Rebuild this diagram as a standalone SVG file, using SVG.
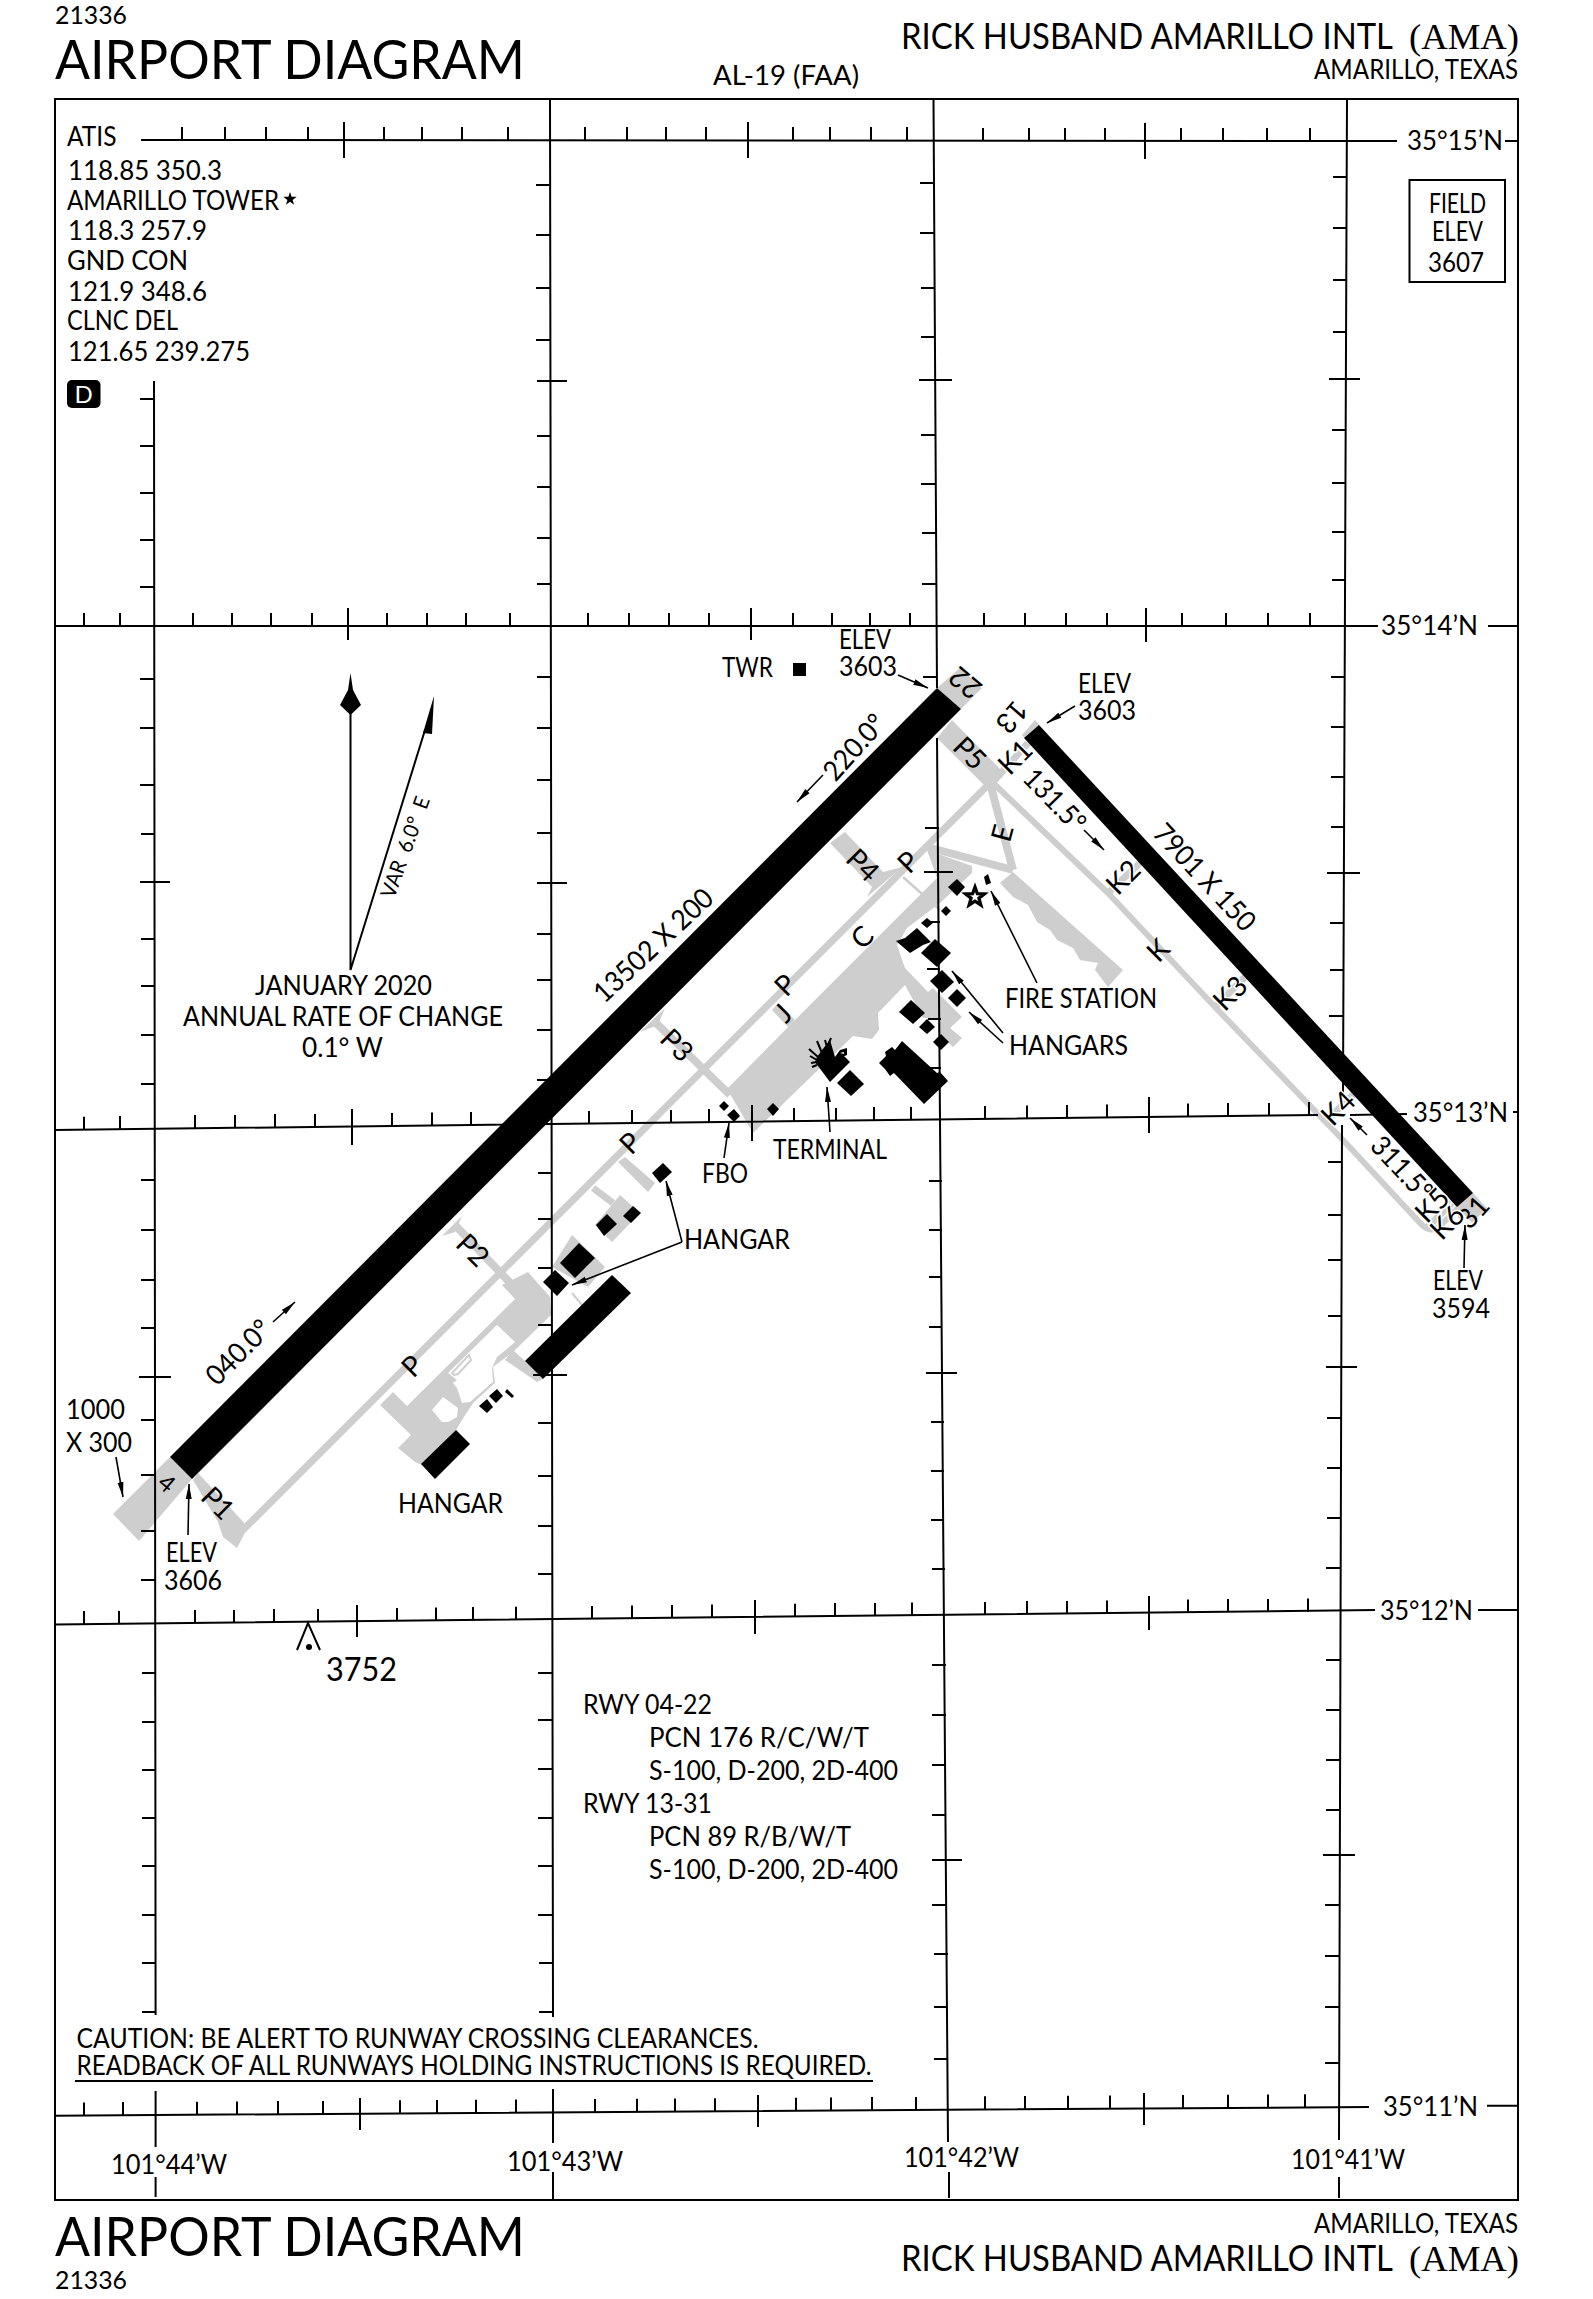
<svg xmlns="http://www.w3.org/2000/svg" width="1593" height="2299" viewBox="0 0 1593 2299">
<defs>
<marker id="a" markerUnits="userSpaceOnUse" markerWidth="16" markerHeight="8" refX="15" refY="4" orient="auto"><path d="M0 1L15 4L0 7z" fill="#000"/></marker>
</defs>
<style>
text{font-family:"Lato","Liberation Sans",sans-serif;fill:#000;font-size:26px}
.r{text-anchor:middle}
.t{font-size:28px}
.h{paint-order:stroke;stroke:#fff;stroke-width:3px}
.g{fill:#cecece;stroke:none}
.gl{fill:none;stroke:#cecece;stroke-linecap:butt;stroke-linejoin:round}
.b{fill:#000;stroke:none}
.ln{fill:none;stroke:#000;stroke-width:2}
.ar{fill:none;stroke:#000;stroke-width:1.6;marker-end:url(#a)}
</style>
<rect width="1593" height="2299" fill="#fff"/>

<g id="pavement">
<polygon class="g" points="937,688 960,668 982,688 961,709"/>
<polygon class="g" points="170,1457 113,1514 139,1541 192,1479"/>
<polygon class="g" points="1022,735 1035,720 1039,725 1024,738"/>
<polygon class="g" points="1473,1193 1457,1207 1472,1223 1487,1208"/>
<path class="gl" stroke-width="6" d="M993,783L1108,893L1215,1007L1343,1140L1420,1223Q1431,1235 1441,1225L1458,1208"/>
<path class="gl" stroke-width="7" d="M993,782L1028,743M1108,893L1141,862M1216,1006L1247,975M1325,1122L1358,1090M1427,1228L1452,1203"/>
<polygon class="g" points="937,738 985,786 1001,770 952,720"/>
<path class="gl" stroke-width="7" d="M992,781L243,1530"/>
<polygon class="g" points="198,1473 248,1527 237,1548 223,1537 218,1522 193,1480"/>
<polygon class="g" points="830,843 845,832 883,872 902,867 867,897 872,887"/>
<path class="gl" stroke-width="8" d="M653,1020L730,1095M455,1225L515,1288M927,847L1013,870M990,783L1013,870"/>
<path class="gl" stroke-width="2.5" d="M903,877L940,910"/>
<polygon class="g" points="640,1032 665,1008 658,1025"/>
<polygon class="g" points="442,1236 462,1216 455,1232"/>
<polygon class="g" points="1013,872 1123,970 1108,987 1095,970 1098,963 1080,960 1073,948 1057,940 1050,930 1037,922 1028,905 1013,897 1000,883"/>
<polygon class="g" points="753,1133 727,1089 795,1020 873,942 937,878 927,850 972,866 972,873 940,903 907,928 897,945 905,968 928,992 933,988 962,1017 950,1028 962,1038 953,1047 938,1033 938,1018 923,1018 905,985 878,1013 879,1030 872,1039 853,1036"/>
<polygon class="g" points="772,1010 778,1003 795,1020 788,1027"/>
<polygon class="g" points="618,1162 625,1157 655,1183 648,1192"/>
<path class="gl" stroke-width="7" d="M593,1188L613,1203"/>
<polygon class="g" points="595,1225 620,1195 640,1213 612,1242"/>
<polygon class="g" points="552,1267 572,1235 605,1267 588,1287"/>
<polygon class="g" points="393,1392 407,1406 515,1299 502,1285 528,1272 550,1297 551,1315 513,1352 493,1367 495,1383 473,1403 462,1420 456,1430 422,1465 415,1462 398,1448 411,1435 380,1405"/>
<polygon points="448,1373 497,1325 515,1342 508,1348 497,1357 492,1368 493,1382 470,1402 462,1403 457,1388 453,1383 457,1380" fill="#fff"/>
<path d="M452,1373L469,1355L471,1360L458,1374L454,1375z" fill="#fff" stroke="#cecece" stroke-width="2"/>
<path d="M432,1410L443,1397L458,1408L457,1417L448,1422L442,1422z" fill="#fff"/>
<polygon class="g" points="513,1350 525,1361 543,1379 537,1382 505,1360"/>
<path class="gl" stroke-width="2" d="M572,1293L582,1305"/>
</g>

<g id="graticule">
<rect class="ln" x="55" y="99" width="1463" height="2101"/>
<path class="ln" d="M141,140L1397,141M1505,141H1518M55,626H1378M1488,626H1518M55,1130L1318,1115M1350,1115L1407,1114M1513,1112H1518M55,1624.5L1375,1610M1478,1610H1518M55,2115.7L1369,2107M1487,2105.7H1518"/>
<path class="ln" d="M154,381L155.6,2015M155.6,2091V2147M155.6,2177V2197M550,99L553,2017M553,2089V2143M553,2172V2199M933.5,99L937,688M937,738L948,2142M949,2172V2198M1347,99L1343,1093M1342,1125L1339,2140M1339,2177V2198"/>
<path class="ln" stroke-width="1.6" d="M182,140v-13M225,140v-13M266,140v-13M308,140v-13M344,122v36M384,140v-13M422,140v-13M462,140v-13M508,140v-13M585,140v-13M627,140v-13M666,140v-13M706,140v-13M748,122v36M793,140v-13M830,140v-13M871,140v-13M907,140v-13M983,141v-13M1029,141v-13M1065,141v-13M1105,141v-13M1145,123v36M1181,141v-13M1223,141v-13M1267,141v-13M1310,141v-13"/>
<path class="ln" stroke-width="1.6" d="M84,626v-13M120,626v-13M193,626v-13M232,626v-13M271,626v-13M312,626v-13M348,608v32M387,626v-13M427,626v-13M466,626v-13M510,626v-13M588,626v-13M629,626v-13M669,626v-13M709,626v-13M751,608v32M793,626v-13M832,626v-13M870,626v-13M910,626v-13M984,626v-13M1025,626v-13M1066,626v-13M1107,626v-13M1146,608v34M1182,626v-13M1226,626v-13M1268,626v-13M1310,626v-13"/>
<path class="ln" stroke-width="1.6" d="M84,1129.7v-13M120,1129v-13M195,1128v-13M235,1128v-13M275,1127v-13M315,1127v-13M352,1109v36M392,1126v-13M432,1125.5v-13M471,1125v-13M589,1124v-13M632,1123v-13M671,1123v-13M709,1122v-13M752,1105v36M794,1121v-13M836,1121v-13M874,1120v-13M911,1120v-13M985,1119v-13M1027,1118.5v-13M1067,1118v-13M1107,1117.5v-13M1149,1097v36M1188,1116.6v-13M1228,1116v-13M1269,1116v-13M1309,1115v-13"/>
<path class="ln" stroke-width="1.6" d="M84,1624v-13M119,1624v-13M195,1623v-13M234,1623v-13M274,1622v-13M318,1622v-13M357,1605v32M397,1621v-13M436,1620.5v-13M473,1620v-13M516,1619.7v-13M592,1619v-13M632,1618.5v-13M672,1618v-13M712,1617.6v-13M755,1600v34M795,1616.7v-13M835,1616v-13M875,1616v-13M912,1615.5v-13M985,1615v-13M1027,1614v-13M1067,1614v-13M1107,1613.5v-13M1149,1596v34M1188,1612.6v-13M1228,1612v-13M1268,1612v-13M1308,1611.4v-13"/>
<path class="ln" stroke-width="1.6" d="M84,2115.5v-13M123,2115v-13M197,2114.7v-13M237,2114.5v-13M278,2114v-13M323,2114v-13M360,2098v32M400,2113.3v-13M437,2113v-13M476,2112.8v-13M516,2112.5v-13M595,2112v-13M637,2111.7v-13M675,2111.5v-13M715,2111.2v-13M758,2095v32M796,2110.7v-13M831,2110.4v-13M872,2110v-13M916,2110v-13M985,2109.2v-13M1025,2109v-13M1068,2108.7v-13M1110,2108.5v-13M1144,2093v32M1183,2108v-13M1228,2107.7v-13M1268,2107.4v-13M1305,2107.2v-13"/>
<path class="ln" stroke-width="1.8" d="M140,399h14M140,446h14M140,493h14M140,540h14M140,587h14M140,679h14M140,728h14M140,785h14M141,834h14M140,882h30M141,939h14M141,986h14M141,1035h14M141,1084h14M141,1180h14M141,1230h14M141,1280h14M141,1328h14M139,1377h32M141,1420h14M141,1475h14M141,1531h14M141,1580h14M142,1673h13M142,1722h13M142,1770h13M142,1818h13M142,1866h13M142,1915h13M142,1963h13M142,2012h13"/>
<path class="ln" stroke-width="1.8" d="M536,185h14M536,235h14M536,288h14M536,340h14M537,381h30M537,436h14M537,487h14M537,538h14M537,584h14M537,677h14M537,728h14M537,780h14M537,833h14M537,883h30M537,934h14M537,980h14M537,1030h14M537,1080h14M538,1173h14M538,1219h14M538,1268h14M538,1325h14M533,1375h34M538,1423h14M538,1476h14M538,1526h14M538,1574h14M538,1673h14M538,1720h14M538,1769h14M538,1818h14M538,1866h14M538,1915h14M539,1963h14M539,2012h14"/>
<path class="ln" stroke-width="1.8" d="M920,183h14M920,233h14M921,288h14M921,337h14M919,380h33M921,435h14M921,484h14M922,533h14M922,584h14M923,677h14M925,828h14M924,872h29M927,922h13M927,969h13M928,1019h13M928,1068h13M929,1181h13M929,1230h13M929,1277h13M929,1327h13M926,1373h31M931,1422h13M931,1471h13M931,1520h13M932,1569h13M932,1665h14M932,1715h14M932,1765h14M932,1815h14M932,1860h30M932,1905h15M934,1954h14M934,2007h14M934,2059h14"/>
<path class="ln" stroke-width="1.8" d="M1333,177h14M1333,228h14M1333,280h14M1333,332h14M1329,379h31M1332,430h14M1332,483h14M1332,532h14M1332,580h14M1331,677h14M1331,727h14M1331,777h14M1331,827h14M1327,873h33M1330,923h14M1330,970h14M1329,1016h14M1328,1162h14M1328,1215h14M1328,1260h14M1328,1316h14M1326,1367h31M1327,1418h14M1327,1468h14M1327,1518h14M1326,1568h14M1326,1660h14M1326,1710h14M1326,1760h14M1326,1810h14M1323,1855h32M1325,1905h14M1325,1956h14M1325,2007h14M1325,2063h14"/>
</g>

<g id="runways">
<polygon class="b" points="937,688 961,709 192,1479 170,1457"/>
<polygon class="b" points="1039,725 1473,1193 1457,1207 1024,738"/>
</g>

<g id="buildings">
<rect class="b" x="793" y="663" width="13" height="13"/>
<polygon class="b" points="948,887 957,879 965,887 957,896"/>
<polygon class="b" points="984,877 988,874 991,883 986,885"/>
<polygon class="b" points="941,911 946,906 951,911 946,916"/>
<polygon class="b" points="921,923 927,918 933,923 927,928"/>
<polygon class="b" points="896,941 905,938 917,928 931,942 923,945 910,953"/>
<polygon class="b" points="921,953 935,939 951,953 937,967"/>
<polygon class="b" points="930,981 942,970 954,982 942,993"/>
<polygon class="b" points="948,998 957,989 966,998 957,1007"/>
<polygon class="b" points="899,1012 911,1000 925,1013 913,1024"/>
<polygon class="b" points="919,1027 927,1019 935,1027 927,1034"/>
<polygon class="b" points="933,1042 941,1034 949,1042 941,1050"/>
<polygon class="b" points="879,1063 886,1056 885,1052 892,1047 895,1050 902,1041 937,1073 940,1072 948,1081 924,1104 894,1073 890,1076 885,1069"/>
<polygon class="b" points="815,1062 830,1082 850,1062 843,1055 835,1057 830,1040 822,1050 817,1057"/>
<path class="b" fill-rule="evenodd" d="M835,1057L840,1050L847,1048L847,1055L842,1057zM840,1053L844,1052L844,1054z"/>
<path class="ln" d="M822,1053L817,1041M818,1057L809,1049M817,1060L810,1056M817,1062L811,1063M817,1065L812,1067M827,1047L825,1040M828,1045L831,1038"/>
<polygon class="b" points="837,1083 850,1070 864,1084 851,1096"/>
<polygon class="b" points="719,1106 724,1101 729,1106 724,1111"/>
<polygon class="b" points="727,1115 734,1109 740,1116 734,1122"/>
<polygon class="b" points="767,1109 773,1103 779,1109 773,1116"/>
<polygon class="b" points="652,1173 663,1163 672,1172 660,1183"/>
<polygon class="b" points="596,1225 607,1214 617,1224 604,1236"/>
<polygon class="b" points="623,1216 633,1206 641,1213 631,1223"/>
<polygon class="b" points="560,1263 579,1243 595,1258 575,1278"/>
<polygon class="b" points="543,1282 555,1270 569,1283 557,1296"/>
<polygon class="b" points="525,1361 612,1275 631,1293 543,1379"/>
<polygon class="b" points="421,1464 456,1430 470,1444 435,1479"/>
<polygon class="b" points="479,1406 487,1399 493,1407 487,1413"/>
<polygon class="b" points="489,1396 497,1389 503,1396 496,1403"/>
<polygon class="b" points="505,1392 507,1389 514,1396 512,1398"/>
<polygon transform="translate(975 897) scale(.82) translate(-976 -897)" points="976,885 978.9,893 987.4,893.3 980.8,898.5 983.1,906.7 976,902 968.9,906.7 971.2,898.5 964.6,893.3 973.1,893" fill="#fff" stroke="#000" stroke-width="4"/>
</g>

<g id="connectors">
<path class="ar" d="M898,675L928,688"/>
<path class="ar" d="M1075,706L1047,723"/>
<path class="ar" d="M823,775L797,802"/>
<path class="ar" d="M1084,830L1104,850"/>
<path class="ar" d="M273,1322L295,1302"/>
<path class="ar" d="M116,1457L123,1497"/>
<path class="ar" d="M188,1535L189,1484"/>
<path class="ar" d="M1367,1135L1350,1118"/>
<path class="ar" d="M1464,1268L1465,1225"/>
<path class="ar" d="M724,1158L729,1123"/>
<path class="ar" d="M830,1132L827,1087"/>
<path class="ar" d="M1037,983L991,891"/>
<path class="ar" d="M1003,1033L952,971"/>
<path class="ar" d="M1003,1043L969,1012"/>
<path class="ar" d="M682,1242L666,1181"/>
<path class="ar" d="M682,1242L572,1285"/>
</g>

<g id="north-arrows">
<path class="ln" d="M350.5,712V970L425,730"/>
<polygon class="b" points="350.5,673 353,690 361,705 350.5,715 340,705 348,690"/>
<polygon class="b" points="434,696 432,734 423,733"/>
</g>

<g id="obstacle">
<path class="ln" d="M297,1650L308,1623L320,1650"/>
<circle class="b" cx="309" cy="1647" r="3"/>
</g>

<g id="star"><polygon class="b" points="290,192 291.6,196.8 296.7,196.8 292.6,199.9 294.1,204.7 290,201.8 285.9,204.7 287.4,199.9 283.3,196.8 288.4,196.8"/></g>
<g id="class-d"><rect class="b" x="67" y="380" width="33.5" height="28" rx="5"/><text x="83.7" y="403" class="r" style="fill:#fff;font-size:24px">D</text></g>
<g id="field-elev"><rect class="ln" x="1409.5" y="180" width="95.5" height="102"/>
<text x="1429" y="213" textLength="57" lengthAdjust="spacingAndGlyphs">FIELD</text>
<text x="1432" y="241" textLength="51" lengthAdjust="spacingAndGlyphs">ELEV</text>
<text x="1428" y="272" textLength="56" lengthAdjust="spacingAndGlyphs">3607</text></g>

<g id="titles">
<text x="55" y="24" textLength="72" lengthAdjust="spacingAndGlyphs" style="font-size:25px">21336</text>
<text x="55" y="78.5" textLength="470" lengthAdjust="spacingAndGlyphs" style="font-size:55px">AIRPORT DIAGRAM</text>
<text x="713" y="85" textLength="146" lengthAdjust="spacingAndGlyphs" style="font-size:27px">AL-19 (FAA)</text>
<text x="901" y="49" textLength="492" lengthAdjust="spacingAndGlyphs" style="font-size:36px">RICK HUSBAND AMARILLO INTL</text>
<text x="1409" y="49" textLength="110" lengthAdjust="spacingAndGlyphs" style="font-size:36px;font-family:'Liberation Serif',serif">(AMA)</text>
<text x="1314" y="78.5" textLength="204" lengthAdjust="spacingAndGlyphs" style="font-size:26px">AMARILLO, TEXAS</text>
<text x="55" y="2256" textLength="470" lengthAdjust="spacingAndGlyphs" style="font-size:55px">AIRPORT DIAGRAM</text>
<text x="55" y="2289" textLength="72" lengthAdjust="spacingAndGlyphs" style="font-size:25px">21336</text>
<text x="1314" y="2233" textLength="204" lengthAdjust="spacingAndGlyphs" style="font-size:26px">AMARILLO, TEXAS</text>
<text x="901" y="2271" textLength="492" lengthAdjust="spacingAndGlyphs" style="font-size:36px">RICK HUSBAND AMARILLO INTL</text>
<text x="1409" y="2271" textLength="110" lengthAdjust="spacingAndGlyphs" style="font-size:36px;font-family:'Liberation Serif',serif">(AMA)</text>
</g>

<g id="comms">
<text x="67" y="146" textLength="49.5" lengthAdjust="spacingAndGlyphs">ATIS</text>
<text x="68" y="180" textLength="154" lengthAdjust="spacingAndGlyphs">118.85 350.3</text>
<text x="67" y="210" textLength="212" lengthAdjust="spacingAndGlyphs">AMARILLO TOWER</text>
<text x="68" y="240" textLength="139" lengthAdjust="spacingAndGlyphs">118.3 257.9</text>
<text x="67" y="270" textLength="121" lengthAdjust="spacingAndGlyphs">GND CON</text>
<text x="68" y="301" textLength="139" lengthAdjust="spacingAndGlyphs">121.9 348.6</text>
<text x="67" y="330" textLength="111" lengthAdjust="spacingAndGlyphs">CLNC DEL</text>
<text x="68" y="360.5" textLength="182" lengthAdjust="spacingAndGlyphs">121.65 239.275</text>
</g>

<g id="coordinates">
<text x="1407" y="150" textLength="96" lengthAdjust="spacingAndGlyphs">35°15’N</text>
<text x="1381" y="635" textLength="97" lengthAdjust="spacingAndGlyphs">35°14’N</text>
<text x="1413" y="1122" textLength="95" lengthAdjust="spacingAndGlyphs">35°13’N</text>
<text x="1380" y="1619.5" textLength="93" lengthAdjust="spacingAndGlyphs">35°12’N</text>
<text x="1383" y="2116" textLength="95" lengthAdjust="spacingAndGlyphs">35°11’N</text>
<text x="111" y="2174" textLength="116" lengthAdjust="spacingAndGlyphs">101°44’W</text>
<text x="507" y="2171" textLength="116" lengthAdjust="spacingAndGlyphs">101°43’W</text>
<text x="904" y="2167" textLength="115" lengthAdjust="spacingAndGlyphs">101°42’W</text>
<text x="1291" y="2169" textLength="114" lengthAdjust="spacingAndGlyphs">101°41’W</text>
</g>

<g id="notes">
<text x="583" y="1714" textLength="129" lengthAdjust="spacingAndGlyphs">RWY 04-22</text>
<text x="649" y="1747" textLength="220" lengthAdjust="spacingAndGlyphs">PCN 176 R/C/W/T</text>
<text x="649" y="1780" textLength="249" lengthAdjust="spacingAndGlyphs">S-100, D-200, 2D-400</text>
<text x="583" y="1813" textLength="129" lengthAdjust="spacingAndGlyphs">RWY 13-31</text>
<text x="649" y="1846" textLength="202" lengthAdjust="spacingAndGlyphs">PCN 89 R/B/W/T</text>
<text x="649" y="1879" textLength="249" lengthAdjust="spacingAndGlyphs">S-100, D-200, 2D-400</text>
<text x="76.5" y="2048" textLength="682" lengthAdjust="spacingAndGlyphs">CAUTION: BE ALERT TO RUNWAY CROSSING CLEARANCES.</text>
<text x="76.5" y="2075" textLength="795" lengthAdjust="spacingAndGlyphs">READBACK OF ALL RUNWAYS HOLDING INSTRUCTIONS IS REQUIRED.</text>
<path class="ln" d="M75,2081H873"/>
<text x="255" y="995" textLength="177" lengthAdjust="spacingAndGlyphs">JANUARY 2020</text>
<text x="183" y="1026" textLength="320" lengthAdjust="spacingAndGlyphs">ANNUAL RATE OF CHANGE</text>
<text x="302" y="1057" textLength="81" lengthAdjust="spacingAndGlyphs">0.1° W</text>
<text transform="translate(405 847) rotate(-70)" class="r" dy=".36em" xml:space="preserve" style="font-size:21px;white-space:pre" textLength="106" lengthAdjust="spacingAndGlyphs">VAR  6.0°  E</text>
</g>

<g id="labels">
<text x="722" y="677" textLength="51" lengthAdjust="spacingAndGlyphs">TWR</text>
<text x="839" y="649" textLength="52" lengthAdjust="spacingAndGlyphs">ELEV</text>
<text x="839" y="676" textLength="58" lengthAdjust="spacingAndGlyphs">3603</text>
<text x="1078" y="693" textLength="53" lengthAdjust="spacingAndGlyphs">ELEV</text>
<text x="1078" y="720" textLength="58" lengthAdjust="spacingAndGlyphs">3603</text>
<text x="166" y="1562" textLength="51" lengthAdjust="spacingAndGlyphs">ELEV</text>
<text x="164" y="1590" textLength="58" lengthAdjust="spacingAndGlyphs">3606</text>
<text x="1433" y="1290" textLength="50" lengthAdjust="spacingAndGlyphs">ELEV</text>
<text x="1432" y="1318" textLength="58" lengthAdjust="spacingAndGlyphs">3594</text>
<text x="66" y="1419" textLength="59" lengthAdjust="spacingAndGlyphs">1000</text>
<text x="66" y="1452" textLength="66" lengthAdjust="spacingAndGlyphs">X 300</text>
<text x="773" y="1159" textLength="114" lengthAdjust="spacingAndGlyphs">TERMINAL</text>
<text x="702" y="1183" textLength="46" lengthAdjust="spacingAndGlyphs">FBO</text>
<text x="1005" y="1008" textLength="152" lengthAdjust="spacingAndGlyphs">FIRE STATION</text>
<text x="1009" y="1055" textLength="119" lengthAdjust="spacingAndGlyphs">HANGARS</text>
<text x="684" y="1249" textLength="106" lengthAdjust="spacingAndGlyphs">HANGAR</text>
<text x="398" y="1513" textLength="105" lengthAdjust="spacingAndGlyphs">HANGAR</text>
<text x="326" y="1681" textLength="71" lengthAdjust="spacingAndGlyphs" style="font-size:32px">3752</text>
<text transform="translate(854 747) rotate(-48)" class="r t" dy=".36em" textLength="78" lengthAdjust="spacingAndGlyphs">220.0°</text>
<text transform="translate(653 945) rotate(-43)" class="r t" dy=".36em" textLength="152" lengthAdjust="spacingAndGlyphs">13502 X 200</text>
<text transform="translate(238 1352) rotate(-45)" class="r t" dy=".36em" textLength="79" lengthAdjust="spacingAndGlyphs">040.0°</text>
<text transform="translate(1055 800) rotate(46)" class="r t" dy=".36em" textLength="76" lengthAdjust="spacingAndGlyphs">131.5°</text>
<text transform="translate(1205 877) rotate(47)" class="r t" dy=".36em" textLength="135" lengthAdjust="spacingAndGlyphs">7901 X 150</text>
<text transform="translate(1402 1168) rotate(47)" class="r t" dy=".36em" textLength="76" lengthAdjust="spacingAndGlyphs">311.5°</text>
<text transform="translate(965 683) rotate(220)" class="r t" dy=".36em">22</text>
<text transform="translate(1012 717) rotate(131)" class="r t" dy=".36em">13</text>
<text transform="translate(1473 1212) rotate(-48)" class="r t" dy=".36em">31</text>
<text transform="translate(167 1483) rotate(40)" class="r" dy=".36em" style="font-size:24px">4</text>
<text transform="translate(970 753) rotate(45)" class="r t" dy=".36em">P5</text>
<text transform="translate(1015 757) rotate(-45)" class="r t h" dy=".36em">K1</text>
<text transform="translate(1002 833) rotate(-75)" class="r t" dy=".36em">E</text>
<text transform="translate(1123 877) rotate(-45)" class="r t h" dy=".36em">K2</text>
<text transform="translate(1158 950) rotate(-45)" class="r t" dy=".36em">K</text>
<text transform="translate(1230 993) rotate(-45)" class="r t h" dy=".36em">K3</text>
<text transform="translate(1338 1108) rotate(-45)" class="r t h" dy=".36em">K4</text>
<text transform="translate(1432 1205) rotate(-45)" class="r t h" dy=".36em">K5</text>
<text transform="translate(1447 1222) rotate(-45)" class="r t h" dy=".36em">K6</text>
<text transform="translate(908 862) rotate(-45)" class="r t" dy=".36em">P</text>
<text transform="translate(863 865) rotate(45)" class="r t" dy=".36em">P4</text>
<text transform="translate(862 937) rotate(-45)" class="r t" dy=".36em">C</text>
<text transform="translate(785 985) rotate(-45)" class="r t" dy=".36em">P</text>
<text transform="translate(783 1013) rotate(-45)" class="r t" dy=".36em">J</text>
<text transform="translate(677 1045) rotate(45)" class="r t" dy=".36em">P3</text>
<text transform="translate(630 1143) rotate(-45)" class="r t" dy=".36em">P</text>
<text transform="translate(473 1250) rotate(45)" class="r t" dy=".36em">P2</text>
<text transform="translate(412 1366) rotate(-45)" class="r t" dy=".36em">P</text>
<text transform="translate(218 1503) rotate(45)" class="r t" dy=".36em">P1</text>
</g>
</svg>
